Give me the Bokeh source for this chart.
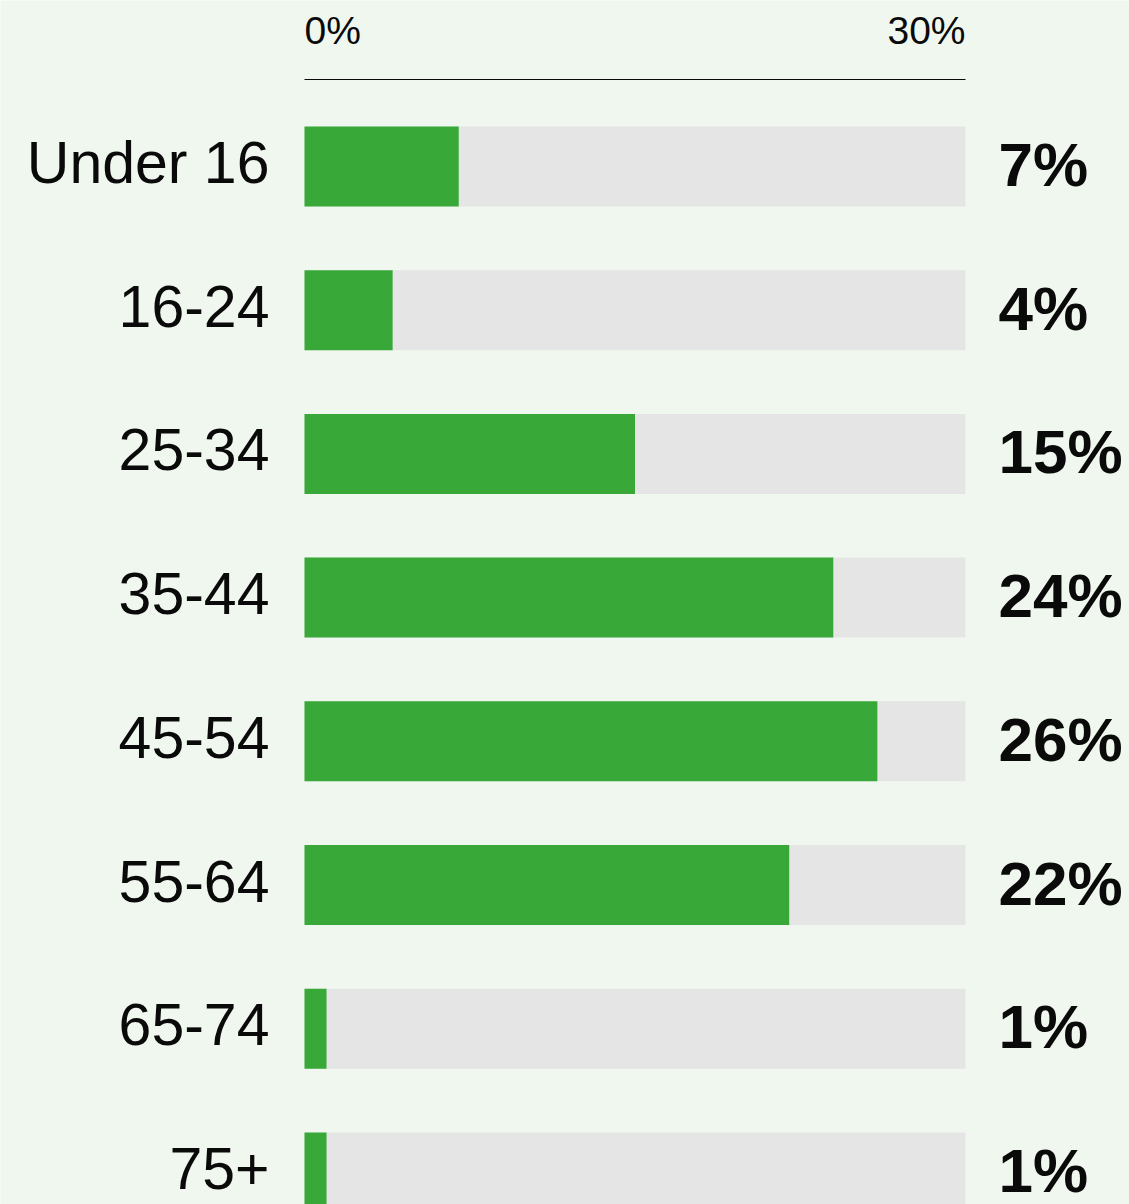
from bokeh.plotting import figure
from bokeh.models import Range1d, ColumnDataSource
from bokeh.core.properties import value
from bokeh.embed import file_html
from bokeh.resources import INLINE

# ---- data ----
categories = ["Under 16", "16-24", "25-34", "35-44", "45-54", "55-64", "65-74", "75+"]
shares = [7, 4, 15, 24, 26, 22, 1, 1]
share_labels = ["7%", "4%", "15%", "24%", "26%", "22%", "1%", "1%"]
axis_max = 30
tick_values = [0, 30]
tick_labels = ["0%", "30%"]

# ---- style / layout ----
BG = "#f0f7ee"
GREEN = "#38a939"
GREY = "#e5e5e5"
INK = "#0a0a0a"
W, H = 1129, 1204
x0_px, x1_px = 304, 965          # pixel position of 0% and 30%
row0_px, row_step_px = 166, 143.7  # centre of first row, row spacing
bar_px = 80
axis_px = 79
tick_base_px = 30

k = (x1_px - x0_px) / axis_max
x_range = Range1d(-x0_px / k, axis_max + (W - x1_px) / k)
y_range = Range1d((H - row0_px) / row_step_px, -row0_px / row_step_px)
bar_h = bar_px / row_step_px
axis_y = (axis_px - row0_px) / row_step_px
tick_y = (tick_base_px - row0_px) / row_step_px

idx = list(range(len(categories)))
src = ColumnDataSource(dict(y=idx, cat=categories, v=shares, lab=share_labels,
                            full=[axis_max] * len(categories)))

p = figure(width=W, height=H, x_range=x_range, y_range=y_range,
           output_backend="svg", toolbar_location=None, min_border=0,
           x_axis_type=None, y_axis_type=None,
           background_fill_color=BG, border_fill_color=BG, outline_line_color=None)
p.grid.visible = False

p.hbar(y="y", left=0, right="full", height=bar_h, source=src,
       fill_color=GREY, line_color=None)
p.hbar(y="y", left=0, right="v", height=bar_h, source=src,
       fill_color=GREEN, line_color=None)

# top axis line + tick labels
p.segment(x0=tick_values[0], y0=axis_y, x1=tick_values[-1], y1=axis_y,
          line_color=INK, line_width=1.2)
tsrc = ColumnDataSource(dict(x=tick_values, y=[tick_y] * len(tick_values), t=tick_labels,
                             a=["left", "right"]))
p.text(x="x", y="y", text="t", text_align="a", text_baseline="alphabetic", source=tsrc,
       text_font=value("Liberation Sans"), text_font_size="39px", text_color=INK)

# category labels
p.text(x=0, y="y", text="cat", source=src, x_offset=-35, y_offset=-4,
       text_align="right", text_baseline="alphabetic",
       text_font=value("Liberation Sans"), text_font_size="59px", text_color=INK)

# value labels
p.text(x=axis_max, y="y", text="lab", source=src, x_offset=33, y_offset=-2,
       text_align="left", text_baseline="alphabetic",
       text_font=value("Liberation Sans"), text_font_style="bold",
       text_font_size="62px", text_color=INK)

open("out.html", "w").write(file_html(p, INLINE))
